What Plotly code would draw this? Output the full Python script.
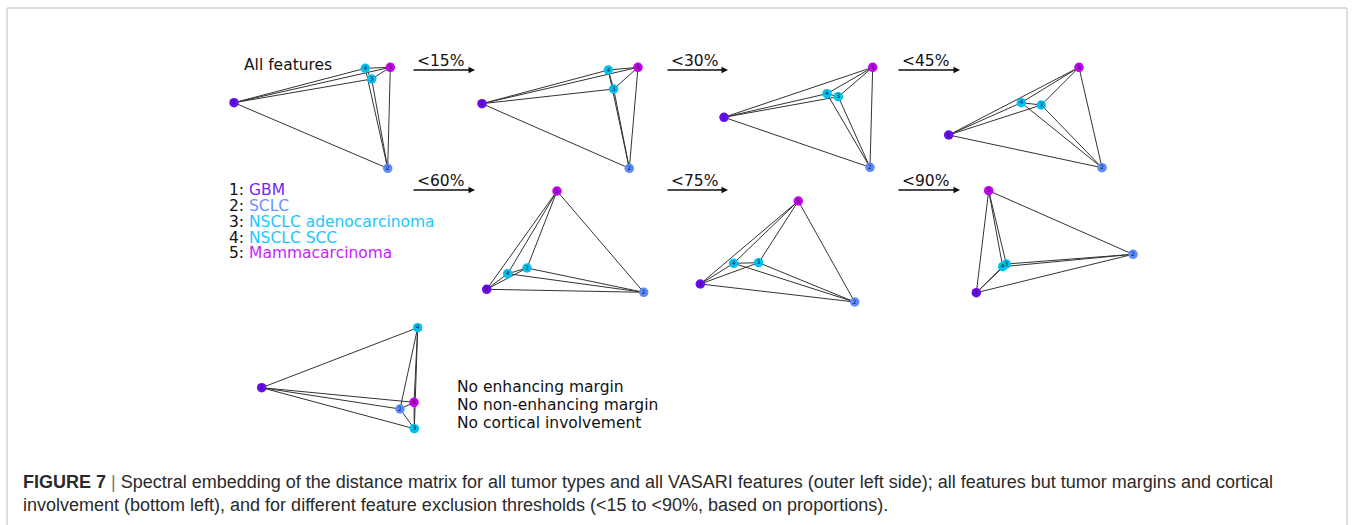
import itertools
import plotly.graph_objects as go

# ---- data -----------------------------------------------------------------
NODE_IDS = ["1", "2", "3", "4", "5"]
TUMOR_TYPES = ["GBM", "SCLC", "NSCLC adenocarcinoma", "NSCLC SCC", "Mammacarcinoma"]
NODE_COLORS = ["#6a0af0", "#5b8cff", "#00c2f2", "#00c2f2", "#c300f0"]
TEXT_COLORS = ["#7424ff", "#6a92ff", "#1ac6ff", "#1ac6ff", "#c81eff"]

PANEL_TITLES = ["All features", "<15%", "<30%", "<45%", "<60%", "<75%", "<90%",
                "No margins / cortical"]

# 2-D spectral embedding coordinates of the five tumour types, per panel
all_x = [14.0, 167.7, 151.7, 145.3, 170.3]
all_y = [52.7, 118.3, 29.0, 18.3, 17.3]
lt15_x = [82.0, 229.3, 213.7, 208.3, 238.0]
lt15_y = [53.7, 118.3, 39.0, 20.0, 17.3]
lt30_x = [74.0, 220.0, 188.3, 177.0, 222.7]
lt30_y = [67.3, 117.3, 46.7, 43.7, 17.3]
lt45_x = [58.7, 212.0, 151.3, 131.3, 189.0]
lt45_y = [85.0, 117.7, 55.0, 52.7, 17.3]
lt60_x = [86.7, 243.7, 127.0, 107.7, 157.0]
lt60_y = [114.3, 117.3, 93.0, 98.7, 16.0]
lt75_x = [50.3, 204.7, 108.7, 83.7, 148.3]
lt75_y = [109.0, 127.0, 87.7, 88.3, 26.0]
lt90_x = [86.3, 243.0, 116.3, 112.7, 98.7]
lt90_y = [117.7, 79.3, 89.0, 91.7, 15.7]
nomargin_x = [21.7, 160.0, 174.3, 177.7, 174.0]
nomargin_y = [72.7, 94.0, 113.7, 12.7, 87.3]

PANEL_X = [all_x, lt15_x, lt30_x, lt45_x, lt60_x, lt75_x, lt90_x, nomargin_x]
PANEL_Y = [all_y, lt15_y, lt30_y, lt45_y, lt60_y, lt75_y, lt90_y, nomargin_y]

EXCLUDED = ["No enhancing margin", "No non-enhancing margin", "No cortical involvement"]

# ---- layout helpers -----------------------------------------------------------
W, H = 1355, 525
PW, PH = 260, 140
PANEL_ORIGINS = [(220, 50), (400, 50), (650, 50), (890, 50),
                 (400, 175), (650, 175), (890, 175), (240, 315)]


def px(x):
    return x / W


def py(y):
    return 1 - y / H


LABEL_FONT = "DejaVu Sans, Verdana, sans-serif"

fig = go.Figure()
layout = {}

for i, (xs, ys, (ox, oy)) in enumerate(zip(PANEL_X, PANEL_Y, PANEL_ORIGINS)):
    suffix = "" if i == 0 else str(i + 1)
    xr, yr = "x" + suffix, "y" + suffix

    # every pair of tumour types is connected
    ex, ey = [], []
    for a, b in itertools.combinations(range(len(xs)), 2):
        ex += [xs[a], xs[b], None]
        ey += [ys[a], ys[b], None]
    fig.add_trace(go.Scatter(
        x=ex, y=ey, mode="lines", xaxis=xr, yaxis=yr,
        line=dict(color="#333333", width=1.0),
        hoverinfo="skip", showlegend=False))
    fig.add_trace(go.Scatter(
        x=xs, y=ys, mode="markers+text", xaxis=xr, yaxis=yr,
        marker=dict(size=9.5, color=NODE_COLORS, line=dict(width=0)),
        text=NODE_IDS, textposition="middle center",
        textfont=dict(size=6, color="#1a1a1a", family="DejaVu Sans"),
        customdata=TUMOR_TYPES, hovertemplate="%{customdata}<extra></extra>",
        showlegend=False))

    layout["xaxis" + suffix] = dict(domain=[px(ox), px(ox + PW)], range=[0, PW],
                                    visible=False, fixedrange=True, anchor=yr)
    layout["yaxis" + suffix] = dict(domain=[py(oy + PH), py(oy)], range=[PH, 0],
                                    visible=False, fixedrange=True, anchor=xr)

annotations = []

# panel title for the full feature set
annotations.append(dict(x=px(242), y=py(65), xref="paper", yref="paper",
                        text=PANEL_TITLES[0], showarrow=False, xanchor="left",
                        yanchor="middle", font=dict(size=15.5, color="#111", family=LABEL_FONT)))

# threshold arrows with their labels
ARROWS = [(412, 475, 70), (666, 728, 70), (897, 960, 70),
          (412, 475, 190), (666, 728, 190), (897, 960, 190)]
for title, (x0, x1, yy) in zip(PANEL_TITLES[1:7], ARROWS):
    annotations.append(dict(x=px(x1), y=py(yy), xref="paper", yref="paper",
                            ax=-(x1 - x0), ay=0, text="", showarrow=True,
                            arrowhead=2, arrowsize=1, arrowwidth=1.3, arrowcolor="#111"))
    annotations.append(dict(x=px(x0 + 3), y=py(yy - 9), xref="paper", yref="paper",
                            text=title.replace("<", "&lt;"), showarrow=False,
                            xanchor="left", yanchor="middle",
                            font=dict(size=15.5, color="#111", family=LABEL_FONT)))

# colour key
for k, (nid, name, col) in enumerate(zip(NODE_IDS, TUMOR_TYPES, TEXT_COLORS)):
    annotations.append(dict(x=px(227), y=py(190.3 + 15.75 * k), xref="paper", yref="paper",
                            text=f"{nid}: <span style='color:{col}'>{name}</span>",
                            showarrow=False, xanchor="left", yanchor="middle",
                            font=dict(size=15.5, color="#111", family=LABEL_FONT)))

# features removed for the bottom-left embedding
for k, line in enumerate(EXCLUDED):
    annotations.append(dict(x=px(455), y=py(387.3 + 18 * k), xref="paper", yref="paper",
                            text=line, showarrow=False, xanchor="left", yanchor="middle",
                            font=dict(size=15.5, color="#111", family=LABEL_FONT)))

# caption
CAPTION = [
    "<b>FIGURE 7</b> <span style='color:#777'>|</span> Spectral embedding of the distance matrix "
    "for all tumor types and all VASARI features (outer left side); all features but tumor "
    "margins and cortical",
    "involvement (bottom left), and for different feature exclusion thresholds "
    "(&lt;15 to &lt;90%, based on proportions).",
]
for k, line in enumerate(CAPTION):
    annotations.append(dict(x=px(21), y=py(481.5 + 23.5 * k), xref="paper", yref="paper",
                            text=line, showarrow=False, xanchor="left", yanchor="middle",
                            font=dict(size=18, color="#2a2a2a",
                                      family="Liberation Sans, Arial, sans-serif")))

shapes = [dict(type="rect", xref="paper", yref="paper",
               x0=px(7), x1=px(1347), y0=py(530), y1=py(8),
               line=dict(color="#bdbdbd", width=1), fillcolor="rgba(0,0,0,0)")]

fig.update_layout(
    width=W, height=H, margin=dict(l=0, r=0, t=0, b=0),
    paper_bgcolor="white", plot_bgcolor="white",
    annotations=annotations, shapes=shapes, **layout)

fig.write_html("out.html")
